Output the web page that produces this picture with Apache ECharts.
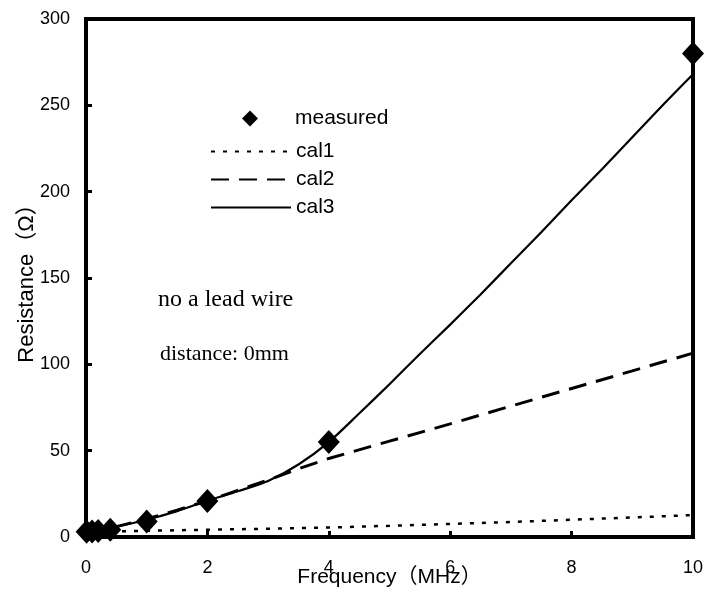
<!DOCTYPE html>
<html>
<head>
<meta charset="utf-8">
<script src="https://cdn.jsdelivr.net/npm/echarts@6/dist/echarts.min.js"></script>
<style>
  html, body { margin: 0; padding: 0; background: #fff; }
  #chart { width: 706px; height: 589px; }
</style>
</head>
<body>
<div id="chart"></div>
<script>
// Frequency (MHz) vs resistance (Ω)
const measuredFreq = [0.01, 0.1, 0.2, 0.4, 1, 2, 4, 10];
const measuredRes  = [3, 3.2, 3.5, 4.2, 9, 20.8, 55, 280];

const cal1Freq = [0, 1, 2, 3, 4, 5, 6, 7, 8, 9, 10];
const cal1Res  = [3, 3.6, 4.2, 4.8, 5.5, 6.5, 7.6, 8.7, 10, 11.3, 12.7];

const cal2Freq = [0, 0.5, 1, 1.5, 2, 2.5, 3, 3.5, 4, 5, 6, 7, 8, 9, 10];
const cal2Res  = [3, 6, 10.5, 15.5, 21, 27, 33, 39.5, 45.5, 55.5, 65.5, 75.8, 86, 96.2, 106.5];

const cal3Freq = [0, 0.5, 1, 1.5, 2, 2.5, 3, 3.5, 4, 4.5, 5, 5.5, 6, 6.5, 7, 7.5, 8, 8.5, 9, 9.5, 10];
const cal3Res  = [3, 6, 10, 15, 21, 26.5, 32.5, 42, 55, 71.5, 88.5, 106, 123, 140.5, 158.5, 176.5, 195, 213, 231.5, 250, 268];

const xTicks = { min: 0, max: 10, interval: 2 };
const yTicks = { min: 0, max: 300, interval: 50 };

const zip = (xs, ys) => xs.map((x, i) => [x, ys[i]]);

// diamond icon padded with empty sub-paths so it sits centred in a wide legend slot
const legendDiamond = 'path://M-5,0L-5,0ZM0,-1L1,0L0,1L-1,0ZM5,0L5,0Z';
const sansFont = '"Liberation Sans", Arial, "Noto Sans CJK JP", sans-serif';
const serifFont = '"Liberation Serif", "Times New Roman", serif';

const chart = echarts.init(document.getElementById('chart'), null, { renderer: 'canvas' });

chart.setOption({
  backgroundColor: '#fff',
  animation: false,
  grid: {
    left: 86, right: 13, top: 19, bottom: 52,
    outerBoundsMode: 'none', containLabel: false,
    show: true, borderColor: '#000', borderWidth: 4, backgroundColor: 'transparent'
  },
  xAxis: {
    type: 'value',
    min: xTicks.min, max: xTicks.max, interval: xTicks.interval,
    name: 'Frequency（MHz）',
    nameLocation: 'middle',
    nameGap: 30,
    nameMoveOverlap: false,
    nameTextStyle: { fontFamily: sansFont, fontSize: 21, color: '#000' },
    axisLine: { show: true, lineStyle: { color: '#000', width: 4 } },
    axisTick: { show: true, inside: true, length: 6, lineStyle: { color: '#000', width: 3 } },
    axisLabel: { fontFamily: sansFont, fontSize: 18, color: '#000', margin: 22 },
    splitLine: { show: false }
  },
  yAxis: {
    type: 'value',
    min: yTicks.min, max: yTicks.max, interval: yTicks.interval,
    name: 'Resistance（Ω）',
    nameLocation: 'middle',
    nameGap: 48,
    nameMoveOverlap: false,
    nameTextStyle: { fontFamily: sansFont, fontSize: 22, color: '#000' },
    axisLine: { show: true, lineStyle: { color: '#000', width: 4 } },
    axisTick: { show: true, inside: true, length: 6, lineStyle: { color: '#000', width: 3 } },
    axisLabel: { fontFamily: sansFont, fontSize: 18, color: '#000', margin: 16 },
    splitLine: { show: false }
  },
  legend: [
    {
      orient: 'vertical', left: 210, top: 108, padding: 0,
      itemWidth: 80, itemHeight: 16, symbolKeepAspect: true,
      itemStyle: { color: '#000', opacity: 1 },
      textStyle: { fontFamily: sansFont, fontSize: 21, color: '#000' },
      data: [{ name: 'measured', icon: legendDiamond }]
    },
    {
      orient: 'vertical', left: 210, top: 141, padding: 0,
      itemWidth: 80, itemHeight: 14, itemGap: 7,
      itemStyle: { opacity: 0 },
      textStyle: { fontFamily: sansFont, fontSize: 21, color: '#000' },
      data: ['cal1', 'cal2', 'cal3']
    }
  ],
  graphic: [
    {
      type: 'text', left: 158, top: 288,
      style: { text: 'no a lead wire', font: '24px ' + serifFont, fill: '#000' }
    },
    {
      type: 'text', left: 160, top: 343,
      style: { text: 'distance: 0mm', font: '22px ' + serifFont, fill: '#000' }
    }
  ],
  series: [
    {
      name: 'cal1', type: 'line', data: zip(cal1Freq, cal1Res),
      showSymbol: false, symbol: 'none', smooth: false,
      itemStyle: { color: '#000' },
      lineStyle: { color: '#000', width: 2.5, type: [4, 8] }, z: 2
    },
    {
      name: 'cal2', type: 'line', data: zip(cal2Freq, cal2Res),
      showSymbol: false, symbol: 'none', smooth: false,
      itemStyle: { color: '#000' },
      lineStyle: { color: '#000', width: 3, type: [18, 10] }, z: 2
    },
    {
      name: 'cal3', type: 'line', data: zip(cal3Freq, cal3Res),
      showSymbol: false, symbol: 'none', smooth: 0.3,
      itemStyle: { color: '#000' },
      lineStyle: { color: '#000', width: 2.2, type: 'solid' }, z: 2
    },
    {
      name: 'measured', type: 'scatter', data: zip(measuredFreq, measuredRes),
      symbol: 'diamond', symbolSize: [22, 24],
      itemStyle: { color: '#000', opacity: 1 }, z: 5, clip: false
    }
  ]
});
</script>
</body>
</html>
